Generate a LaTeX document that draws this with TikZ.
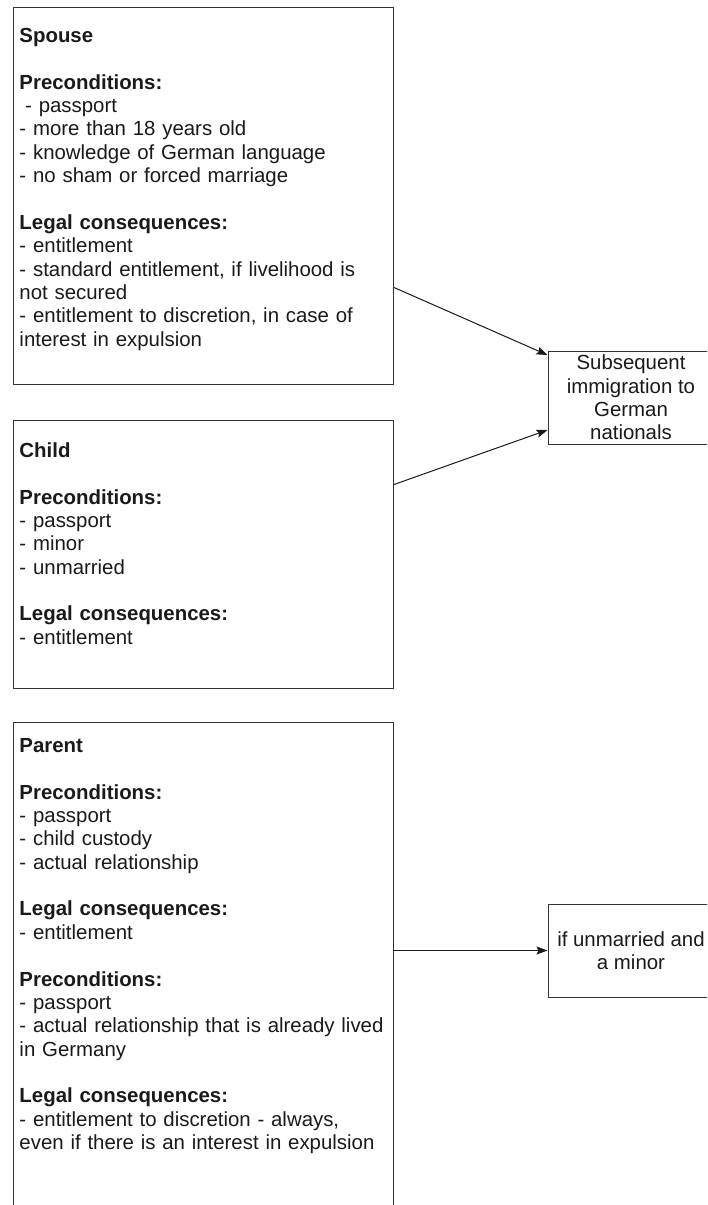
\documentclass[tikz,border=0pt]{standalone}
\usepackage{fontspec}
\setmainfont{Liberation Sans}
\usetikzlibrary{arrows.meta, positioning}

\definecolor{ink}{HTML}{1A1A1A}
\definecolor{boxline}{HTML}{333333}

\tikzset{
  infobox/.style={draw=boxline, line width=1pt, text=ink, text width=368pt,
    align=left, inner xsep=6pt, inner ysep=0pt,
    font=\fontsize{20.4}{23.35}\selectfont},
  resultbox/.style={draw=boxline, line width=1pt, text=ink, align=center,
    minimum width=166pt, minimum height=93pt, inner sep=0pt,
    font=\fontsize{20.4}{23.35}\selectfont},
  link/.style={-{Stealth[length=11pt, width=8pt, inset=2pt]}, line width=1pt, color=ink}
}

\begin{document}
\begin{tikzpicture}[x=1pt, y=-1pt]
        \useasboundingbox (0,0) rectangle (707,1205);
        \fill [white] (0,0) rectangle (707,1205);
        \clip (0,0) rectangle (707,1205);

        \node (spouse) [infobox, anchor=north west, text height=35pt, text depth=342pt] at (13,7)
        {\textbf{Spouse}\\[23.35pt]
         \textbf{Preconditions:}\\
         \hspace*{.28em}- passport\\
         - more than 18 years old\\
         - knowledge of German language\\
         - no sham or forced marriage\\[23.35pt]
         \textbf{Legal consequences:}\\
         - entitlement\\
         - standard entitlement, if livelihood is\\
         not secured\\
         - entitlement to discretion, in case of\\
         interest in expulsion};
        \node (child) [infobox, below = 35pt of spouse, text height=37pt, text depth=231pt]
        {\textbf{Child}\\[23.35pt]
         \textbf{Preconditions:}\\
         - passport\\
         - minor\\
         - unmarried\\[23.35pt]
         \textbf{Legal consequences:}\\
         - entitlement};
        \node (parent) [infobox, below = 33pt of child, text height=30pt, text depth=488pt]
        {\textbf{Parent}\\[23.35pt]
         \textbf{Preconditions:}\\
         - passport\\
         - child custody\\
         - actual relationship\\[23.35pt]
         \textbf{Legal consequences:}\\
         - entitlement\\[23.35pt]
         \textbf{Preconditions:}\\
         - passport\\
         - actual relationship that is already lived\\
         in Germany\\[23.35pt]
         \textbf{Legal consequences:}\\
         - entitlement to discretion - always,\\
         even if there is an interest in expulsion};

        \node (immig) [resultbox] at (631,397.5) {Subsequent\\immigration to\\German\\nationals};
        \node (minor) [resultbox] at (631,950.5) {if unmarried and\\a minor};

        \path [link]
        ([yshift=-91.5pt]spouse.east) edge ([yshift=42.5pt]immig.west)
        ([yshift=70pt]child.east) edge ([yshift=-32.5pt]immig.west)
        (parent.east |- minor.west) edge (minor.west);
    \end{tikzpicture}
\end{document}
